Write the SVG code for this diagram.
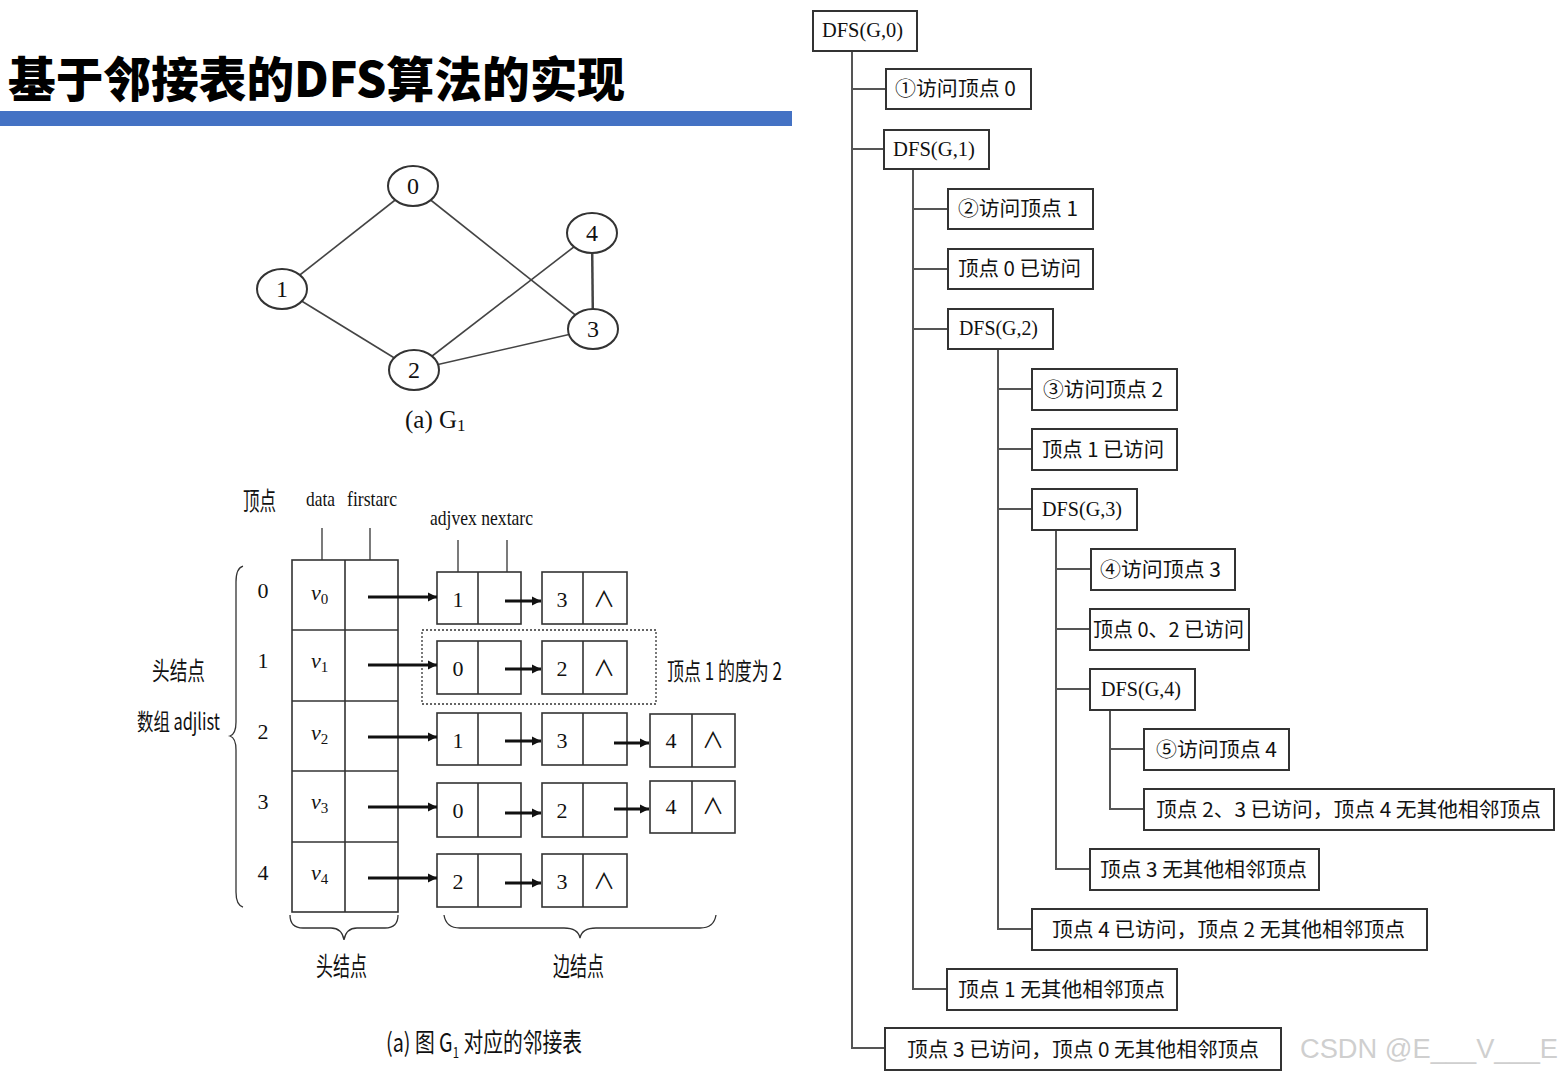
<svg xmlns="http://www.w3.org/2000/svg" width="1561" height="1074" viewBox="0 0 1561 1074">
<style>
.cjk{font-family:"Noto Sans CJK SC","Liberation Sans",sans-serif;fill:#111}
.ser{font-family:"Liberation Serif","Noto Sans CJK SC",serif;fill:#111}
.box{fill:#fff;stroke:#333;stroke-width:2}
.tl{stroke:#555;stroke-width:2;fill:none}
.gl{stroke:#444;stroke-width:1.6;fill:none}
.cell{fill:#fff;stroke:#333;stroke-width:1.6}
.arr{stroke:#111;stroke-width:3;fill:none;marker-end:url(#ah)}
.tt{font-size:20px}
.dt{font-size:22px}
</style>
<defs>
<marker id="ah" markerUnits="userSpaceOnUse" viewBox="0 0 10 10" markerWidth="9" markerHeight="10" refX="10" refY="5" orient="auto">
<path d="M0,0 L10,5 L0,10 z" fill="#111"/>
</marker>
</defs>
<rect width="1561" height="1074" fill="#fff"/>

<!-- Title -->
<g id="title">
<text x="8" y="97" font-family="Noto Sans CJK SC, sans-serif" font-weight="900" font-size="48" fill="#000" textLength="617" lengthAdjust="spacingAndGlyphs">基于邻接表的DFS算法的实现</text>
<rect x="0" y="111" width="792" height="15" fill="#4472C4"/>
</g>

<!-- Graph G1 -->
<g id="graph-edges" class="gl">
<line x1="413" y1="186" x2="282" y2="289"/>
<line x1="413" y1="186" x2="593" y2="329"/>
<line x1="282" y1="289" x2="414" y2="370"/>
<line x1="414" y1="370" x2="592" y2="233"/>
<line x1="414" y1="370" x2="593" y2="329"/>
<line x1="592" y1="233" x2="593" y2="329" stroke-width="2.5"/>
</g>
<g id="g-node-0"><ellipse cx="413" cy="186" rx="25" ry="20" fill="#fff" stroke="#333" stroke-width="2"/><text x="413" y="194" class="ser" font-size="24" text-anchor="middle">0</text></g>
<g id="g-node-1"><ellipse cx="282" cy="289" rx="25" ry="20" fill="#fff" stroke="#333" stroke-width="2"/><text x="282" y="297" class="ser" font-size="24" text-anchor="middle">1</text></g>
<g id="g-node-2"><ellipse cx="414" cy="370" rx="25" ry="20" fill="#fff" stroke="#333" stroke-width="2"/><text x="414" y="378" class="ser" font-size="24" text-anchor="middle">2</text></g>
<g id="g-node-3"><ellipse cx="593" cy="329" rx="25" ry="20" fill="#fff" stroke="#333" stroke-width="2"/><text x="593" y="337" class="ser" font-size="24" text-anchor="middle">3</text></g>
<g id="g-node-4"><ellipse cx="592" cy="233" rx="25" ry="20" fill="#fff" stroke="#333" stroke-width="2"/><text x="592" y="241" class="ser" font-size="24" text-anchor="middle">4</text></g>
<text x="405" y="428" class="ser" font-size="25" fill="#222">(a) G<tspan font-size="17" dy="3">1</tspan></text>

<!-- Adjacency list -->
<g id="adj-labels">
<text x="243" y="510" class="cjk" font-size="25" textLength="33" lengthAdjust="spacingAndGlyphs">顶点</text>
<text x="306" y="506" class="ser" font-size="21" textLength="29" lengthAdjust="spacingAndGlyphs">data</text>
<text x="347" y="506" class="ser" font-size="21" textLength="50" lengthAdjust="spacingAndGlyphs">firstarc</text>
<text x="430" y="525" class="ser" font-size="21" textLength="103" lengthAdjust="spacingAndGlyphs">adjvex nextarc</text>
<text x="152" y="680" class="cjk" font-size="25" textLength="53" lengthAdjust="spacingAndGlyphs">头结点</text>
<text x="137" y="730" class="cjk" font-size="23" textLength="83" lengthAdjust="spacingAndGlyphs">数组 adjlist</text>
<text x="667" y="680" class="cjk" font-size="24" textLength="115" lengthAdjust="spacingAndGlyphs">顶点 1 的度为 2</text>
<text x="316" y="976" class="cjk" font-size="26" textLength="51" lengthAdjust="spacingAndGlyphs">头结点</text>
<text x="553" y="976" class="cjk" font-size="26" textLength="51" lengthAdjust="spacingAndGlyphs">边结点</text>
<text x="0" y="0" transform="translate(386,1052) scale(0.76,1)" class="cjk" font-size="26">(a) 图 G<tspan font-size="15" dy="6">1</tspan><tspan dy="-6"> 对应的邻接表</tspan></text>
</g>
<g id="adj-ticks" stroke="#333" stroke-width="1.3">
<line x1="322" y1="528" x2="322" y2="560"/>
<line x1="370" y1="528" x2="370" y2="560"/>
<line x1="458" y1="540" x2="458" y2="572"/>
<line x1="507" y1="540" x2="507" y2="572"/>
</g>
<g id="braces" fill="none" stroke="#333" stroke-width="1.3">
<path d="M243,566 Q236,568 236,582 L236,722 Q236,734 230,736 Q236,738 236,750 L236,892 Q236,905 243,907"/>
<path d="M290,915 Q290,928 303,928 L331,928 Q342,928 344,940 Q346,928 357,928 L385,928 Q398,928 398,915"/>
<path d="M444,915 Q446,928 460,928 L564,928 Q578,928 580,938 Q582,928 596,928 L700,928 Q714,928 716,915"/>
</g>
<g id="head-array">
<rect x="292" y="560" width="106" height="352" class="cell"/>
<line x1="345" y1="560" x2="345" y2="912" stroke="#333" stroke-width="1.6"/>
<g stroke="#333" stroke-width="1.6"><line x1="292" y1="630" x2="398" y2="630"/><line x1="292" y1="701" x2="398" y2="701"/><line x1="292" y1="771" x2="398" y2="771"/><line x1="292" y1="842" x2="398" y2="842"/></g>
<g class="ser" font-size="22">
<text x="263" y="598" text-anchor="middle">0</text><text x="263" y="668" text-anchor="middle">1</text><text x="263" y="739" text-anchor="middle">2</text><text x="263" y="809" text-anchor="middle">3</text><text x="263" y="880" text-anchor="middle">4</text>
<text x="311" y="600" font-style="italic">v<tspan font-size="15" dy="4" font-style="normal">0</tspan></text>
<text x="311" y="668" font-style="italic">v<tspan font-size="15" dy="4" font-style="normal">1</tspan></text>
<text x="311" y="740" font-style="italic">v<tspan font-size="15" dy="4" font-style="normal">2</tspan></text>
<text x="311" y="809" font-style="italic">v<tspan font-size="15" dy="4" font-style="normal">3</tspan></text>
<text x="311" y="880" font-style="italic">v<tspan font-size="15" dy="4" font-style="normal">4</tspan></text>
</g>
</g>
<rect x="422" y="630" width="234" height="74" fill="none" stroke="#333" stroke-width="1.3" stroke-dasharray="2,2"/>
<g id="edge-nodes">
<g id="e00"><rect x="437" y="572" width="84" height="52" class="cell"/><line x1="478" y1="572" x2="478" y2="624" stroke="#333" stroke-width="1.6"/><text x="458" y="607" class="ser" font-size="22" text-anchor="middle">1</text></g>
<g id="e01"><rect x="542" y="572" width="85" height="52" class="cell"/><line x1="583" y1="572" x2="583" y2="624" stroke="#333" stroke-width="1.6"/><text x="562" y="607" class="ser" font-size="22" text-anchor="middle">3</text><text x="604" y="607" class="ser" font-size="22" text-anchor="middle">∧</text></g>
<g id="e10"><rect x="437" y="641" width="84" height="53" class="cell"/><line x1="478" y1="641" x2="478" y2="694" stroke="#333" stroke-width="1.6"/><text x="458" y="676" class="ser" font-size="22" text-anchor="middle">0</text></g>
<g id="e11"><rect x="542" y="641" width="85" height="53" class="cell"/><line x1="583" y1="641" x2="583" y2="694" stroke="#333" stroke-width="1.6"/><text x="562" y="676" class="ser" font-size="22" text-anchor="middle">2</text><text x="604" y="676" class="ser" font-size="22" text-anchor="middle">∧</text></g>
<g id="e20"><rect x="437" y="713" width="84" height="52" class="cell"/><line x1="478" y1="713" x2="478" y2="765" stroke="#333" stroke-width="1.6"/><text x="458" y="748" class="ser" font-size="22" text-anchor="middle">1</text></g>
<g id="e21"><rect x="542" y="713" width="85" height="52" class="cell"/><line x1="583" y1="713" x2="583" y2="765" stroke="#333" stroke-width="1.6"/><text x="562" y="748" class="ser" font-size="22" text-anchor="middle">3</text></g>
<g id="e22"><rect x="650" y="714" width="85" height="53" class="cell"/><line x1="692" y1="714" x2="692" y2="767" stroke="#333" stroke-width="1.6"/><text x="671" y="748" class="ser" font-size="22" text-anchor="middle">4</text><text x="713" y="748" class="ser" font-size="22" text-anchor="middle">∧</text></g>
<g id="e30"><rect x="437" y="783" width="84" height="54" class="cell"/><line x1="478" y1="783" x2="478" y2="837" stroke="#333" stroke-width="1.6"/><text x="458" y="818" class="ser" font-size="22" text-anchor="middle">0</text></g>
<g id="e31"><rect x="542" y="783" width="85" height="54" class="cell"/><line x1="583" y1="783" x2="583" y2="837" stroke="#333" stroke-width="1.6"/><text x="562" y="818" class="ser" font-size="22" text-anchor="middle">2</text></g>
<g id="e32"><rect x="650" y="781" width="85" height="52" class="cell"/><line x1="692" y1="781" x2="692" y2="833" stroke="#333" stroke-width="1.6"/><text x="671" y="814" class="ser" font-size="22" text-anchor="middle">4</text><text x="713" y="814" class="ser" font-size="22" text-anchor="middle">∧</text></g>
<g id="e40"><rect x="437" y="854" width="84" height="53" class="cell"/><line x1="478" y1="854" x2="478" y2="907" stroke="#333" stroke-width="1.6"/><text x="458" y="889" class="ser" font-size="22" text-anchor="middle">2</text></g>
<g id="e41"><rect x="542" y="854" width="85" height="53" class="cell"/><line x1="583" y1="854" x2="583" y2="907" stroke="#333" stroke-width="1.6"/><text x="562" y="889" class="ser" font-size="22" text-anchor="middle">3</text><text x="604" y="889" class="ser" font-size="22" text-anchor="middle">∧</text></g>
</g>
<g id="adj-arrows">
<line x1="368" y1="597" x2="437" y2="597" class="arr"/>
<line x1="368" y1="665" x2="437" y2="665" class="arr"/>
<line x1="368" y1="737" x2="437" y2="737" class="arr"/>
<line x1="368" y1="807" x2="437" y2="807" class="arr"/>
<line x1="368" y1="878" x2="437" y2="878" class="arr"/>
<line x1="505" y1="601" x2="541" y2="601" class="arr"/>
<line x1="505" y1="669" x2="541" y2="669" class="arr"/>
<line x1="505" y1="741" x2="541" y2="741" class="arr"/>
<line x1="505" y1="813" x2="541" y2="813" class="arr"/>
<line x1="505" y1="883" x2="541" y2="883" class="arr"/>
<line x1="614" y1="743" x2="649" y2="743" class="arr"/>
<line x1="614" y1="809" x2="649" y2="809" class="arr"/>
</g>

<!-- DFS call tree -->
<g id="tree-connectors" class="tl">
<path d="M852,52 V1048 H885 M852,89 H886 M852,149 H884"/>
<path d="M913,169 V989 H947 M913,209 H948 M913,269 H948 M913,329 H948"/>
<path d="M998,350 V929 H1032 M998,389 H1032 M998,449 H1032 M998,509 H1032"/>
<path d="M1056,530 V869 H1090 M1056,569 H1091 M1056,629 H1090 M1056,689 H1090"/>
<path d="M1110,710 V809 H1144 M1110,749 H1144"/>
</g>
<g id="t-dfs0"><rect x="813" y="11" width="104" height="40" class="box"/><text x="822" y="37" class="ser dt" textLength="81" lengthAdjust="spacingAndGlyphs">DFS(G,0)</text></g>
<g id="t-visit0"><rect x="886" y="69" width="145" height="40" class="box"/><text x="895" y="96" class="cjk tt" textLength="121" lengthAdjust="spacingAndGlyphs">①访问顶点 0</text></g>
<g id="t-dfs1"><rect x="884" y="130" width="105" height="39" class="box"/><text x="893" y="156" class="ser dt" textLength="82" lengthAdjust="spacingAndGlyphs">DFS(G,1)</text></g>
<g id="t-visit1"><rect x="948" y="189" width="145" height="40" class="box"/><text x="958" y="216" class="cjk tt" textLength="120" lengthAdjust="spacingAndGlyphs">②访问顶点 1</text></g>
<g id="t-v0done"><rect x="948" y="249" width="145" height="40" class="box"/><text x="958" y="276" class="cjk tt" textLength="123" lengthAdjust="spacingAndGlyphs">顶点 0 已访问</text></g>
<g id="t-dfs2"><rect x="948" y="309" width="105" height="40" class="box"/><text x="959" y="335" class="ser dt" textLength="79" lengthAdjust="spacingAndGlyphs">DFS(G,2)</text></g>
<g id="t-visit2"><rect x="1032" y="369" width="145" height="41" class="box"/><text x="1043" y="397" class="cjk tt" textLength="120" lengthAdjust="spacingAndGlyphs">③访问顶点 2</text></g>
<g id="t-v1done"><rect x="1032" y="429" width="145" height="41" class="box"/><text x="1042" y="457" class="cjk tt" textLength="122" lengthAdjust="spacingAndGlyphs">顶点 1 已访问</text></g>
<g id="t-dfs3"><rect x="1032" y="489" width="105" height="41" class="box"/><text x="1042" y="516" class="ser dt" textLength="80" lengthAdjust="spacingAndGlyphs">DFS(G,3)</text></g>
<g id="t-visit3"><rect x="1091" y="549" width="144" height="41" class="box"/><text x="1100" y="577" class="cjk tt" textLength="121" lengthAdjust="spacingAndGlyphs">④访问顶点 3</text></g>
<g id="t-v02done"><rect x="1090" y="609" width="159" height="41" class="box"/><text x="1093" y="637" class="cjk tt" textLength="151" lengthAdjust="spacingAndGlyphs">顶点 0、2 已访问</text></g>
<g id="t-dfs4"><rect x="1090" y="669" width="105" height="41" class="box"/><text x="1101" y="696" class="ser dt" textLength="80" lengthAdjust="spacingAndGlyphs">DFS(G,4)</text></g>
<g id="t-visit4"><rect x="1144" y="729" width="145" height="41" class="box"/><text x="1156" y="757" class="cjk tt" textLength="121" lengthAdjust="spacingAndGlyphs">⑤访问顶点 4</text></g>
<g id="t-v4end"><rect x="1144" y="789" width="410" height="41" class="box"/><text x="1156" y="817" class="cjk tt" textLength="385" lengthAdjust="spacingAndGlyphs">顶点 2、3 已访问，顶点 4 无其他相邻顶点</text></g>
<g id="t-v3end"><rect x="1090" y="849" width="229" height="41" class="box"/><text x="1100" y="877" class="cjk tt" textLength="207" lengthAdjust="spacingAndGlyphs">顶点 3 无其他相邻顶点</text></g>
<g id="t-v2end"><rect x="1032" y="909" width="395" height="41" class="box"/><text x="1052" y="937" class="cjk tt" textLength="353" lengthAdjust="spacingAndGlyphs">顶点 4 已访问，顶点 2 无其他相邻顶点</text></g>
<g id="t-v1end"><rect x="947" y="969" width="230" height="41" class="box"/><text x="958" y="997" class="cjk tt" textLength="207" lengthAdjust="spacingAndGlyphs">顶点 1 无其他相邻顶点</text></g>
<g id="t-v0end"><rect x="885" y="1028" width="396" height="42" class="box"/><text x="907" y="1057" class="cjk tt" textLength="352" lengthAdjust="spacingAndGlyphs">顶点 3 已访问，顶点 0 无其他相邻顶点</text></g>

<text x="1300" y="1058" font-family="Liberation Sans, sans-serif" font-size="27" fill="#cfcfcf" textLength="258" lengthAdjust="spacingAndGlyphs">CSDN @E___V___E</text>
</svg>
